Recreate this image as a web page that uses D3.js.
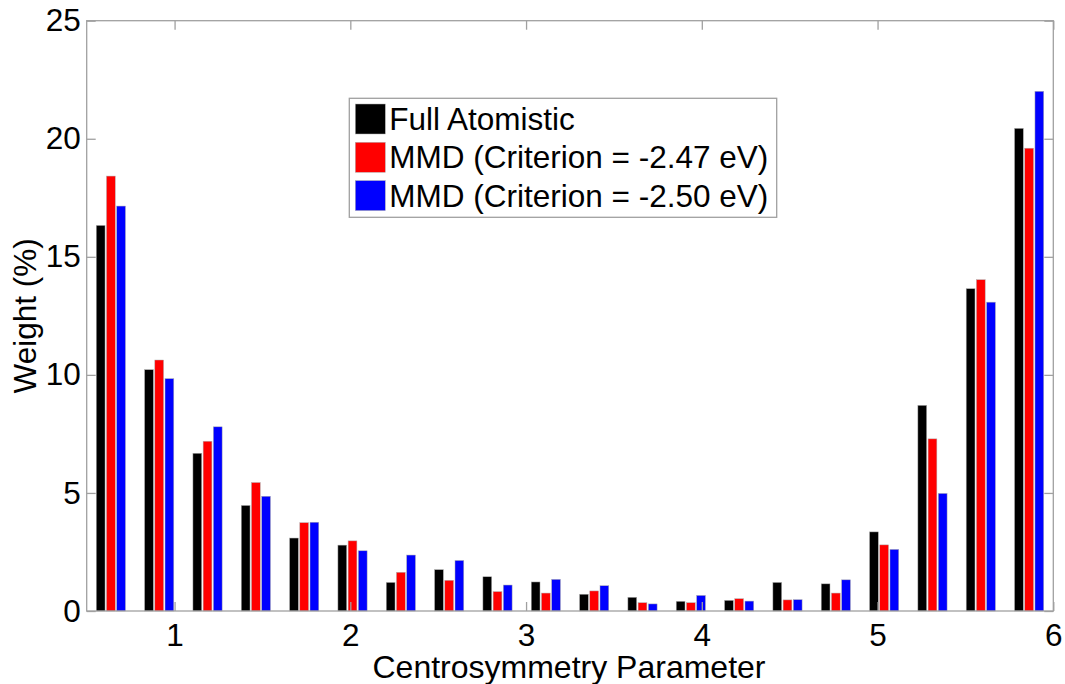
<!DOCTYPE html>
<html>
<head>
<meta charset="utf-8">
<script src="https://cdn.jsdelivr.net/npm/d3@7"></script>
<style>
    body { margin: 0; background: #fff; }
    text { font-family: "Liberation Sans", Arial, sans-serif; fill: #000; }
</style>
</head>
<body>
<div id="chart"></div>
<script>
// Bin centres of the centrosymmetry histogram
let binCenters = [0.6375, 0.9125, 1.1875, 1.4625, 1.7375, 2.0125, 2.2875, 2.5625, 2.8375, 3.1125,
                  3.3875, 3.6625, 3.9375, 4.2125, 4.4875, 4.7625, 5.0375, 5.3125, 5.5875, 5.8625];

// Weight (%) per bin
let fullAtomistic = [16.33, 10.22, 6.68, 4.47, 3.09, 2.79, 1.21, 1.75, 1.45, 1.23,
                     0.71, 0.58, 0.41, 0.45, 1.21, 1.15, 3.35, 8.71, 13.65, 20.44];
let mmd247 = [18.42, 10.63, 7.19, 5.44, 3.74, 2.97, 1.64, 1.30, 0.82, 0.76,
              0.85, 0.35, 0.35, 0.52, 0.47, 0.76, 2.80, 7.29, 14.03, 19.60];
let mmd250 = [17.15, 9.84, 7.80, 4.86, 3.76, 2.55, 2.37, 2.14, 1.10, 1.34,
              1.07, 0.30, 0.66, 0.42, 0.48, 1.32, 2.61, 4.98, 13.08, 22.01];

let seriesNames = ['Full Atomistic', 'MMD (Criterion = -2.47 eV)', 'MMD (Criterion = -2.50 eV)'];
let seriesColors = ['#000000', '#ff0000', '#0000ff'];
let xTicks = [1, 2, 3, 4, 5, 6];
let yTicks = [0, 5, 10, 15, 20, 25];

window.onload = function() {
    DrawChart();
}

function DrawChart() {
    let width = 1065, height = 684;
    let left = 86.7, right = 1053.3, top = 20.7, bottom = 611;
    let axisColor = '#a0a0a0';

    let svg = d3.select('#chart')
        .append('svg')
        .attr('width', width)
        .attr('height', height);

    let x = d3.scaleLinear().domain([0.5, 6]).range([left, right]);
    let y = d3.scaleLinear().domain([0, 25]).range([bottom, top]);
    // offset of each series inside a bin
    let sub = d3.scaleBand().domain(d3.range(seriesNames.length)).range([-14.6, 14.6]).paddingInner(0.14);

    let allSeries = [fullAtomistic, mmd247, mmd250];

    // Bars
    allSeries.forEach(function(values, s) {
        svg.append('g')
            .selectAll('rect')
            .data(values)
            .join('rect')
            .attr('x', (d, i) => x(binCenters[i]) + sub(s))
            .attr('y', d => y(d))
            .attr('width', sub.bandwidth())
            .attr('height', d => y(0) - y(d))
            .attr('fill', seriesColors[s])
            .attr('stroke', '#b0b0b0')
            .attr('stroke-width', 0.5);
    });

    // Box around plot
    svg.append('rect')
        .attr('x', left)
        .attr('y', top)
        .attr('width', right - left)
        .attr('height', bottom - top)
        .attr('fill', 'none')
        .attr('stroke', axisColor)
        .attr('stroke-width', 1.3);

    // Axes (ticks pointing inward, matlab style)
    let xAxis = svg.append('g')
        .attr('transform', `translate(0,${bottom})`)
        .call(d3.axisBottom(x).tickValues(xTicks).tickSizeInner(-9).tickSizeOuter(0).tickPadding(13).tickFormat(d3.format('d')));
    let xAxisTop = svg.append('g')
        .attr('transform', `translate(0,${top})`)
        .call(d3.axisTop(x).tickValues(xTicks).tickSizeInner(-9).tickSizeOuter(0).tickFormat(''));
    let yAxis = svg.append('g')
        .attr('transform', `translate(${left},0)`)
        .call(d3.axisLeft(y).tickValues(yTicks).tickSizeInner(-9).tickSizeOuter(0).tickPadding(6));
    let yAxisRight = svg.append('g')
        .attr('transform', `translate(${right},0)`)
        .call(d3.axisRight(y).tickValues(yTicks).tickSizeInner(-9).tickSizeOuter(0).tickFormat(''));

    [xAxis, xAxisTop, yAxis, yAxisRight].forEach(function(g) {
        g.select('.domain').remove();
        g.selectAll('line').attr('stroke', axisColor).attr('stroke-width', 1.3);
        g.selectAll('text')
            .attr('font-family', '"Liberation Sans", Arial, sans-serif')
            .attr('font-size', 31.5)
            .attr('fill', '#000');
    });

    // Axis labels
    svg.append('text')
        .attr('x', (left + right) / 2 - 1)
        .attr('y', 678)
        .attr('text-anchor', 'middle')
        .attr('font-size', 32)
        .text('Centrosymmetry Parameter');
    svg.append('text')
        .attr('transform', `translate(36,${(top + bottom) / 2}) rotate(-90)`)
        .attr('text-anchor', 'middle')
        .attr('font-size', 31.5)
        .text('Weight (%)');

    // Legend
    let legend = svg.append('g')
        .attr('transform', 'translate(349.3,98.3)');
    legend.append('rect')
        .attr('width', 427.4)
        .attr('height', 119)
        .attr('fill', '#fff')
        .attr('stroke', axisColor)
        .attr('stroke-width', 1.3);
    let rows = legend.selectAll('g.row')
        .data(seriesNames)
        .join('g')
        .attr('class', 'row')
        .attr('transform', (d, i) => `translate(6,${5.7 + i * 38.3})`);
    rows.append('rect')
        .attr('width', 30)
        .attr('height', 30)
        .attr('fill', (d, i) => seriesColors[i])
        .attr('stroke', '#b0b0b0')
        .attr('stroke-width', 0.5);
    rows.append('text')
        .attr('x', 34)
        .attr('y', 26)
        .attr('font-size', 31.5)
        .text(d => d);
}
</script>
</body>
</html>
